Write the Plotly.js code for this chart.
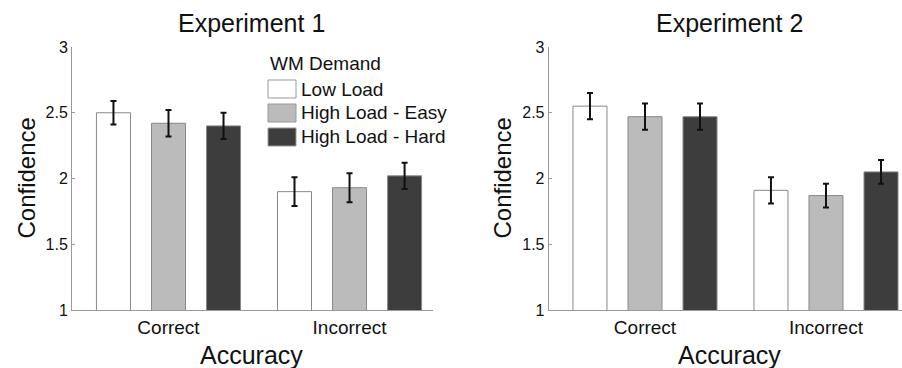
<!DOCTYPE html>
<html>
<head>
<meta charset="utf-8">
<script src="https://cdn.plot.ly/plotly-3.0.1.min.js"></script>
<style>html,body{margin:0;padding:0;background:#fff;}#chart{width:902px;height:368px;}</style>
</head>
<body>
<div id="chart"></div>
<script>
// ---- data ----
const categories = ['Correct', 'Incorrect'];
const seriesNames = ['Low Load', 'High Load - Easy', 'High Load - Hard'];
const exp1Low = [2.50, 1.90];
const exp1Easy = [2.42, 1.93];
const exp1Hard = [2.40, 2.02];
const exp1LowErr = [0.09, 0.11];
const exp1EasyErr = [0.10, 0.11];
const exp1HardErr = [0.10, 0.10];
const exp2Low = [2.55, 1.91];
const exp2Easy = [2.47, 1.87];
const exp2Hard = [2.47, 2.05];
const exp2LowErr = [0.10, 0.10];
const exp2EasyErr = [0.10, 0.09];
const exp2HardErr = [0.10, 0.09];
const yTickVals = [1, 1.5, 2, 2.5, 3];
const yTickText = ['1', '1.5', '2', '2.5', '3'];

// ---- styles ----
const W = 902, H = 368;
const colors = ['#ffffff', '#bbbbbb', '#3d3d3d'];
const FONT = 'Liberation Sans, Arial, Helvetica, sans-serif';
const px = v => v / W;
const py = v => 1 - v / H;

function mk(y, err, i, xa, ya) {
  return {
    type: 'bar', x: categories, y: y, name: seriesNames[i],
    xaxis: xa, yaxis: ya, showlegend: false,
    marker: {color: colors[i], line: {color: '#888888', width: 1}},
    error_y: {type: 'data', array: err, visible: true, color: '#111111', thickness: 2, width: 3},
    hoverinfo: 'skip'
  };
}

const data = [
  mk(exp1Low, exp1LowErr, 0, 'x', 'y'),
  mk(exp1Easy, exp1EasyErr, 1, 'x', 'y'),
  mk(exp1Hard, exp1HardErr, 2, 'x', 'y'),
  mk(exp2Low, exp2LowErr, 0, 'x2', 'y2'),
  mk(exp2Easy, exp2EasyErr, 1, 'x2', 'y2'),
  mk(exp2Hard, exp2HardErr, 2, 'x2', 'y2')
];

const yax = {
  range: [1, 3], domain: [py(310), py(47)],
  tickvals: yTickVals, ticktext: yTickText,
  ticks: 'inside', ticklen: 3, tickcolor: '#999', tickwidth: 1,
  showline: true, linecolor: '#999', linewidth: 1,
  showgrid: false, zeroline: false,
  tickfont: {family: FONT, size: 16, color: '#111'}
};
const xax = {
  type: 'category',
  showline: true, linecolor: '#999', linewidth: 1,
  ticks: '', showgrid: false, zeroline: false,
  tickfont: {family: FONT, size: 19, color: '#111'}
};

const annotations = [];
const shapes = [];
function txt(text, x, y, size, opts) {
  annotations.push(Object.assign({
    text: text, xref: 'paper', yref: 'paper', x: px(x), y: py(y),
    xanchor: 'center', yanchor: 'middle', showarrow: false,
    font: {family: FONT, size: size, color: '#111'}
  }, opts || {}));
}
txt('Experiment 1', 252, 23, 25);
txt('Experiment 2', 729, 23, 25);
txt('Accuracy', 252, 355, 25);
txt('Accuracy', 729, 355, 25);
txt('Confidence', 26, 178.5, 24, {textangle: -90});
txt('Confidence', 502, 178.5, 24, {textangle: -90});

// legend (panel 1)
txt('WM Demand', 268, 63, 19, {xanchor: 'left'});
const rowY = [89, 113, 137];
seriesNames.forEach((n, i) => {
  shapes.push({type: 'rect', xref: 'paper', yref: 'paper',
    x0: px(268), x1: px(296), y0: py(rowY[i] + 9), y1: py(rowY[i] - 9),
    fillcolor: colors[i], line: {color: '#999', width: 1}});
  txt(n, 299, rowY[i], 19, {xanchor: 'left'});
});

const layout = {
  width: W, height: H,
  margin: {l: 0, r: 0, t: 0, b: 0},
  paper_bgcolor: '#fff', plot_bgcolor: 'rgba(0,0,0,0)',
  barmode: 'group', bargap: 0.088, bargroupgap: 0.382,
  xaxis: Object.assign({}, xax, {domain: [px(72), px(433)], range: [-0.533, 1.461], anchor: 'y'}),
  yaxis: Object.assign({}, yax, {anchor: 'x'}),
  xaxis2: Object.assign({}, xax, {domain: [px(548.7), 1], range: [-0.532, 1.42], anchor: 'y2'}),
  yaxis2: Object.assign({}, yax, {anchor: 'x2'}),
  annotations: annotations, shapes: shapes,
  showlegend: false
};

Plotly.newPlot('chart', data, layout, {staticPlot: true, displayModeBar: false});
</script>
</body>
</html>
